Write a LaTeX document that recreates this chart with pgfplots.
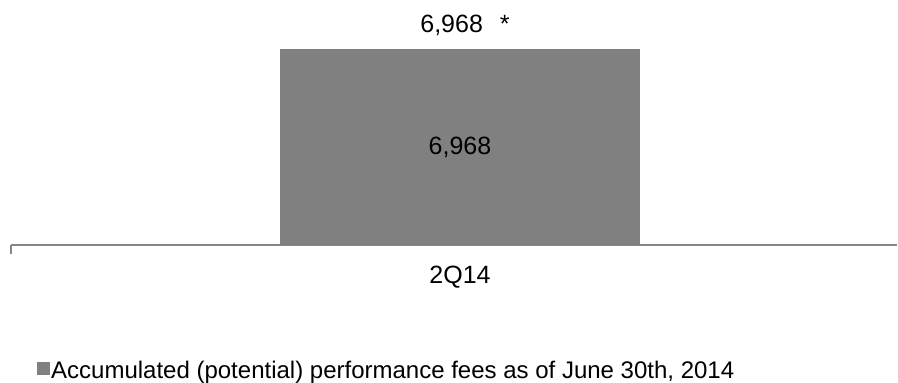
\documentclass[border=0pt]{standalone}
\usepackage{pgfplots}
\pgfplotsset{compat=1.18}
\usepackage{fontspec}
\setmainfont{Liberation Sans}
\definecolor{barg}{HTML}{808080}
\definecolor{axg}{HTML}{868686}
\begin{document}
\begin{tikzpicture}
\path[use as bounding box] (-11pt,-138pt) rectangle (887pt,245pt);
\begin{axis}[
  scale only axis, width=886pt, height=196pt,
  xmin=0, xmax=886, ymin=0, ymax=6968,
  axis y line=none,
  axis x line*=bottom,
  x axis line style={draw=axg, line width=2pt},
  ytick=\empty,
  xtick={449}, xticklabels={2Q14},
  major tick length=0pt,
  xticklabel style={font=\fontsize{25}{30}\selectfont, anchor=base, inner sep=0pt, yshift=-38pt},
  extra x ticks={0}, extra x tick labels={},
  extra x tick style={major tick length=9pt, tick align=outside, tick style={draw=axg, line width=2pt}},
  clip=false,
  /pgf/number format/.cd, 1000 sep={,}, assume math mode=true,
  /pgfplots/.cd,
  legend style={draw=none, fill=none, at={(0,0)}, anchor=north west, xshift=26pt, yshift=-115pt,
    inner sep=0pt, font=\fontsize{24}{29}\selectfont, nodes={inner sep=1pt}},
  legend cell align=left,
]
\addplot[ybar, bar width=360, fill=barg, draw=none,
  nodes near coords={\pgfmathprintnumber{\pgfplotspointmeta}\hspace{17pt}*},
  nodes near coords style={font=\fontsize{25}{30}\selectfont, anchor=base, inner sep=0pt, yshift=17pt, xshift=5pt, text=black},
  legend image code/.code={\fill[barg] (0pt,-4pt) rectangle (13pt,9pt);}]
  coordinates {(449,6968)};
\addlegendentry{Accumulated (potential) performance fees as of June 30th, 2014}
\addplot[draw=none, mark=none, forget plot, point meta=explicit symbolic,
  nodes near coords, nodes near coords style={font=\fontsize{25}{30}\selectfont, anchor=center, inner sep=0pt, text=black}]
  coordinates {(449,3484) [6,968]};
\end{axis}
\end{tikzpicture}
\end{document}
